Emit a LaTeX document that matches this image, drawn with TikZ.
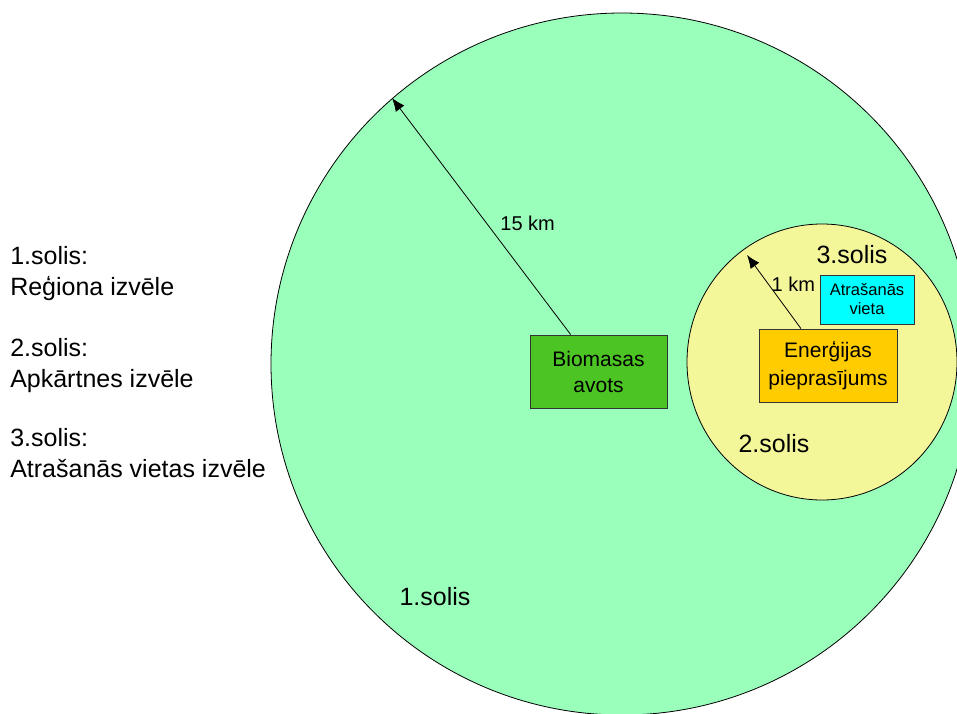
\documentclass[tikz,border=0pt]{standalone}
\usepackage{fontspec}
\setmainfont{Liberation Sans}
\usetikzlibrary{positioning,arrows.meta}

\definecolor{regiongreen}{RGB}{153,255,187}
\definecolor{areayellow}{RGB}{244,247,153}
\definecolor{biogreen}{RGB}{76,196,36}
\definecolor{demandorange}{RGB}{255,204,0}
\definecolor{spotcyan}{RGB}{0,255,255}

\tikzset{
  zone/.style={draw=black,line width=0.6pt},
  box/.style={rectangle,draw=black!80,line width=0.6pt,align=center,inner sep=0pt},
  steptext/.style={align=left,inner sep=0pt,font=\fontsize{18.75}{23.25}\selectfont},
  steplabel/.style={font=\fontsize{18.75}{22}\selectfont},
  kmlabel/.style={inner sep=1pt,font=\fontsize{15}{18}\selectfont},
  radiusarrow/.style={-{Latex[length=10pt,width=8pt]},line width=0.6pt}
}

\begin{document}
\begin{tikzpicture}[x=0.75pt,y=-0.75pt]
     \clip (0,0) rectangle (957,714);
     \coordinate (regionc) at (622,364);
     \coordinate (areac) at (822,362);
     \draw[zone,fill=regiongreen] (regionc) circle [radius=351];
     \draw[zone,fill=areayellow] (areac) ellipse [x radius=135,y radius=138];
     \node[box,fill=biogreen,minimum width=102.75pt,minimum height=54.75pt,
       font=\fontsize{15.75}{19.5}\selectfont] (bio) at (598.5,371.5)
     {Biomasas\\avots};
     \node[box,fill=demandorange,minimum width=103.5pt,minimum height=54.75pt,
       font=\fontsize{15.75}{20.5}\selectfont] (demand) at (828,365.5)
     {Enerģijas\\pieprasījums};
     \node[box,fill=spotcyan,minimum width=70.5pt,minimum height=36.75pt,
       font=\fontsize{12.4}{14.25}\selectfont] (spot) at (867,299.5)
     {Atrašanās\\vieta};
     \coordinate (regionrim) at (392,98);
     \coordinate (arearim) at (747,255);
     \draw[radiusarrow] (bio) -- node[kmlabel,pos=.47,right=9pt] (km15) {15 km} (regionrim);
     \draw[radiusarrow] (demand) -- node[kmlabel,pos=.6,right=1pt] (km1) {1 km} (arearim);
     \node[steplabel] (solis3) at (852,255) {3.solis};
     \node[steplabel] (solis2) at (774,444) {2.solis};
     \node[steplabel] (solis1) at (435,597) {1.solis};
     \node[steptext,anchor=north west] (step1) at (10,246) {1.solis:\\Reģiona izvēle};
     \node[steptext,below=28pt of step1.south west,anchor=north west] (step2)
     {2.solis:\\Apkārtnes izvēle};
     \node[steptext,below=26pt of step2.south west,anchor=north west] (step3)
     {3.solis:\\Atrašanās vietas izvēle};
   \end{tikzpicture}
\end{document}
